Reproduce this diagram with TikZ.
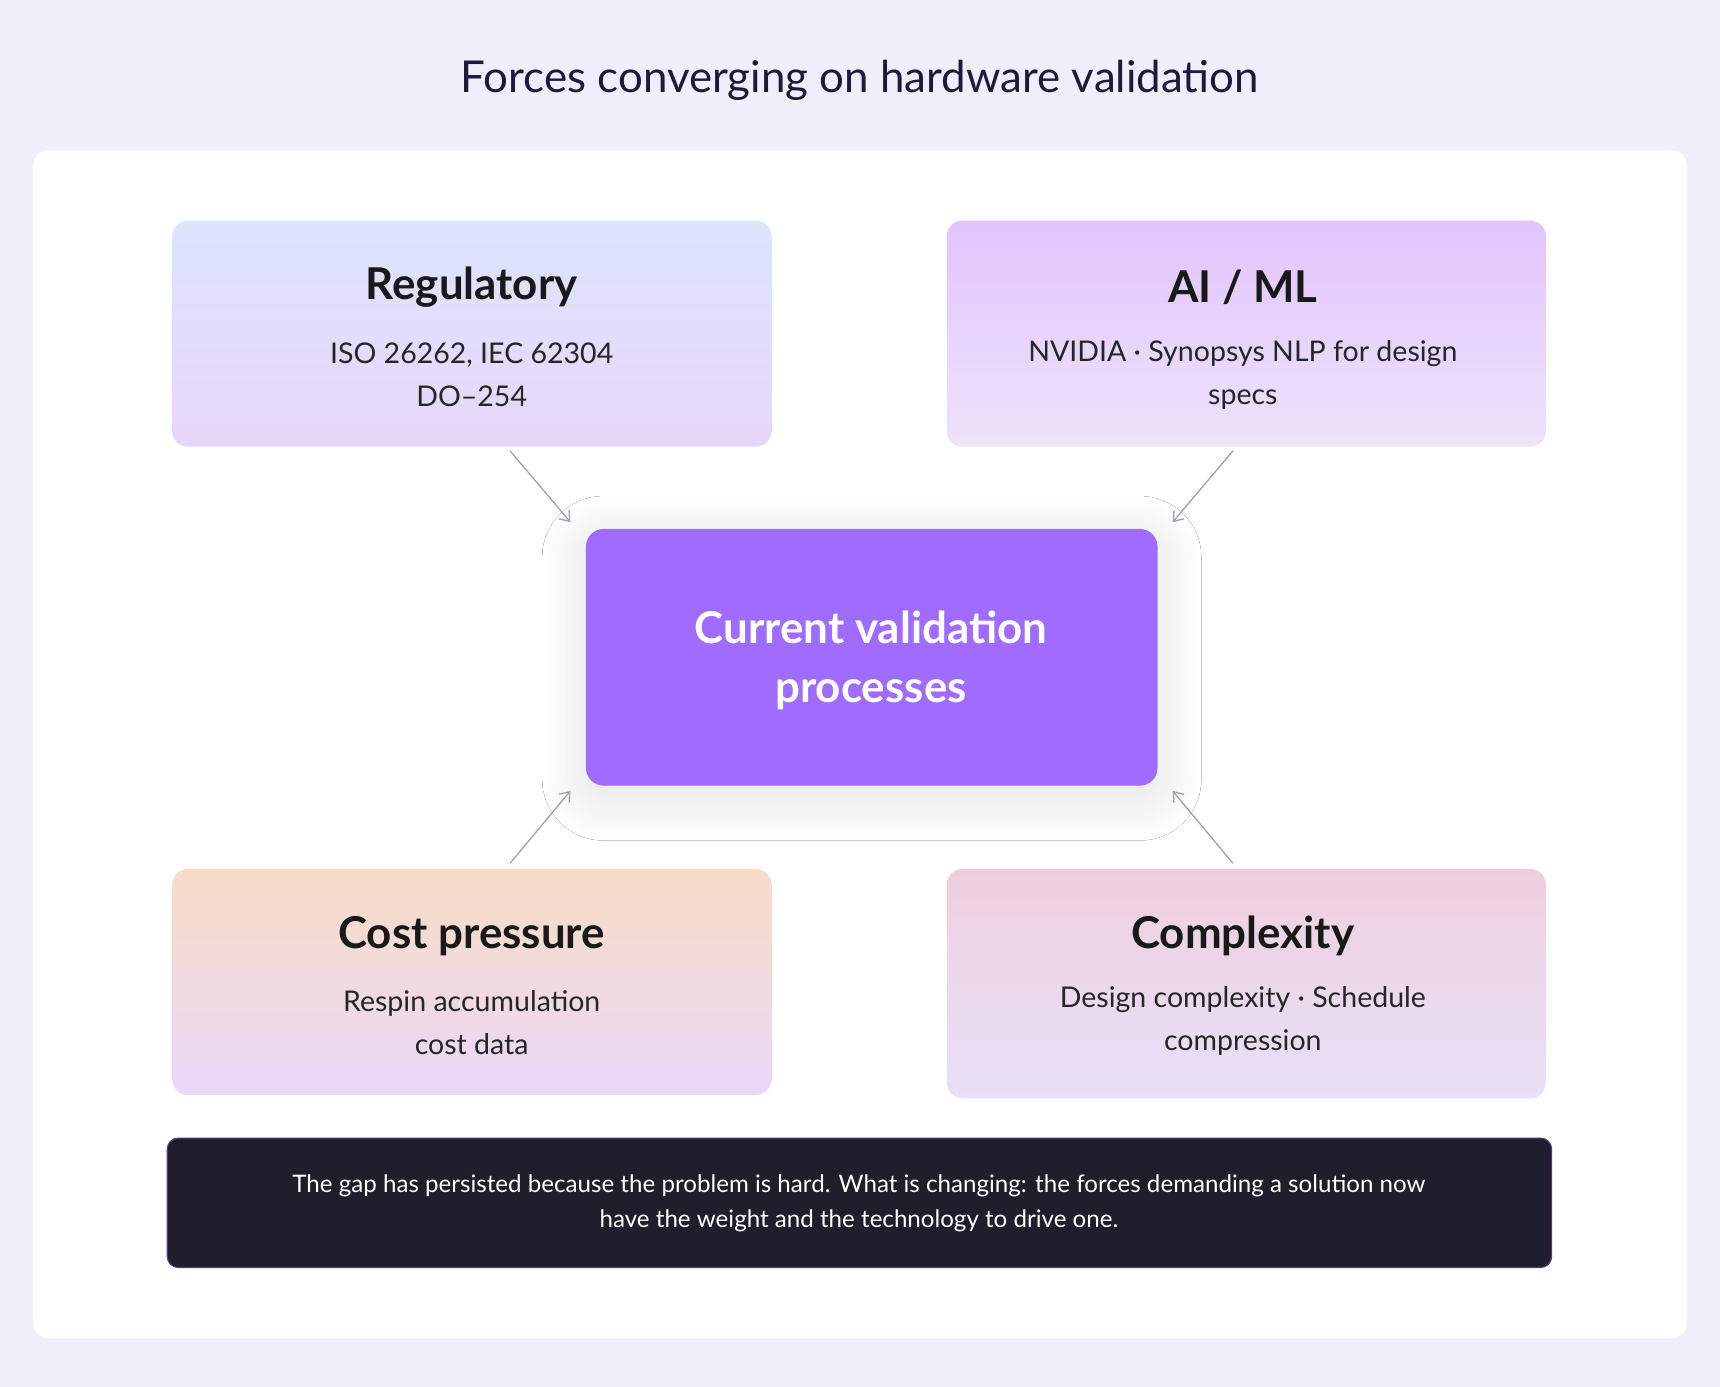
\documentclass[tikz,border=0pt]{standalone}
\usepackage{fontspec}
\setmainfont{Lato}
\usetikzlibrary{shadows.blur,arrows.meta}
\definecolor{bgc}{HTML}{F1EEFB}
\definecolor{titc}{HTML}{1E1B3A}
\definecolor{cen}{HTML}{A06BFF}
\definecolor{dark}{HTML}{201E2D}
\definecolor{arr}{HTML}{A49DB8}
\definecolor{regT}{HTML}{DDE5FD}
\definecolor{regB}{HTML}{E6D6F8}
\definecolor{aiT}{HTML}{E2C4FD}
\definecolor{aiB}{HTML}{EDE3FA}
\definecolor{costT}{HTML}{F7DCC6}
\definecolor{costB}{HTML}{EAD8F8}
\definecolor{cxT}{HTML}{EFCFDE}
\definecolor{cxB}{HTML}{E8E0F8}
\tikzset{
 x=1pt,y=-1pt,
 card/.style={rounded corners=14pt, minimum width=546pt, minimum height=206pt, anchor=north west, inner sep=0pt},
 ttl/.style={font=\fontsize{40}{46}\selectfont\bfseries, text=black!90},
 sub/.style={font=\fontsize{26}{39}\selectfont, text=black!85, align=center},
 conn/.style={draw=arr, line width=1.2pt, -{Straight Barb[length=8pt,width=12pt]}},
}
\begin{document}
\begin{tikzpicture}
\fill[bgc] (0,0) rectangle (1568,1264);
\useasboundingbox (0,0) rectangle (1568,1264);
\node[font=\fontsize{40}{46}\selectfont, text=titc] (title) at (784,73) {Forces converging on hardware validation};
\fill[white, rounded corners=14pt] (30,137) rectangle (1538,1220);
% cards
\node[card, top color=regT, bottom color=regB] (reg) at (157,201) {};
\node[card, top color=aiT, bottom color=aiB] (ai) at (863,201) {};
\node[card, top color=costT, bottom color=costB] (cost) at (157,792) {};
\node[card, minimum height=209pt, top color=cxT, bottom color=cxB] (cx) at (863,792) {};
\node[ttl] at (430,262) {Regulatory};
\node[sub] at (430,342) {ISO 26262, IEC 62304\\DO–254};
\node[ttl] at (1133,262) {AI / ML};
\node[sub] at (1133,342) {NVIDIA · Synopsys NLP for design\\specs};
\node[ttl] at (430,853) {Cost pressure};
\node[sub] at (430,932) {Respin accumulation\\cost data};
\node[ttl] at (1133,853) {Complexity};
\node[sub] at (1133,931) {Design complexity · Schedule\\compression};
% center
\node[rounded corners=16pt, fill=cen, minimum width=521pt, minimum height=234pt, anchor=north west,
  blur shadow={shadow xshift=0pt, shadow yshift=-10pt, shadow blur radius=40pt, shadow opacity=12, shadow blur steps=20}] (c) at (534,482) {};
\node[font=\fontsize{40}{53}\selectfont\bfseries, text=white, align=center] at (794,602) {Current validation\\processes};
% arrows
\coordinate (a1) at (465,411); \coordinate (b1) at (520,476);
\coordinate (a2) at (1124,411); \coordinate (b2) at (1069,476);
\coordinate (a3) at (465,787); \coordinate (b3) at (520,721);
\coordinate (a4) at (1124,787); \coordinate (b4) at (1069,721);
\draw[conn] (a1) -- (b1);
\draw[conn] (a2) -- (b2);
\draw[conn] (a3) -- (b3);
\draw[conn] (a4) -- (b4);
% bottom
\node[rounded corners=10pt, fill=dark, draw=cen!40!dark, line width=1pt, minimum width=1262pt, minimum height=118pt, anchor=north west] (note) at (152,1037) {};
\node[font=\fontsize{22}{32}\selectfont, text=white, align=center] at (783,1097) {The gap has persisted because the problem is hard. What is changing: the forces demanding a solution now\\have the weight and the technology to drive one.};
\end{tikzpicture}
\end{document}
